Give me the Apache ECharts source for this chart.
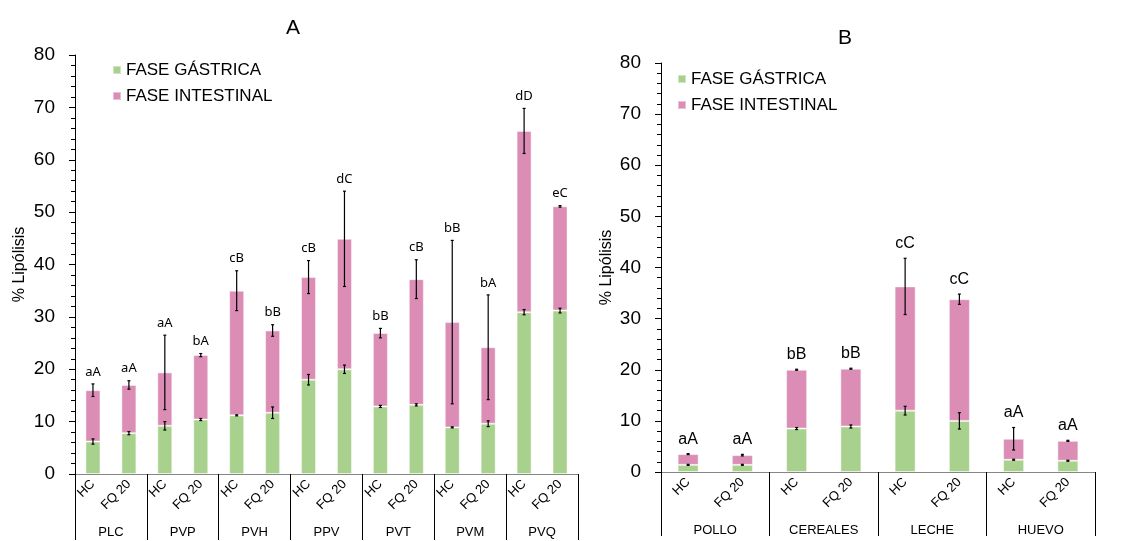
<!DOCTYPE html>
<html>
<head>
<meta charset="utf-8">
<script src="https://cdn.jsdelivr.net/npm/echarts@6/dist/echarts.min.js"></script>
<style>
  html, body { margin: 0; padding: 0; background: #fff; }
  #chart { width: 1138px; height: 541px; }
</style>
</head>
<body>
<div id="chart"></div>
<script>
// Treatments inside each group
const treatments = ['HC', 'FQ 20'];

// Panel A: lipolysis per product
const groupsA = ['PLC', 'PVP', 'PVH', 'PPV', 'PVT', 'PVM', 'PVQ'];
const gastricA    = [6.2, 7.8, 9.2, 10.4, 11.2, 11.7, 18.0, 20.0, 12.9, 13.2, 8.9, 9.6, 30.9, 31.2];
const intestinalA = [9.8, 9.2, 10.2, 12.3, 23.8, 15.7, 19.6, 24.9, 14.0, 24.0, 20.1, 14.6, 34.6, 19.9];
const gastricErrA = [0.5, 0.3, 0.8, 0.2, 0.1, 1.1, 1.0, 0.8, 0.2, 0.2, 0.1, 0.55, 0.5, 0.45];
const totalErrA   = [1.2, 0.8, 7.1, 0.3, 3.8, 1.1, 3.15, 9.1, 0.9, 3.7, 15.6, 10.0, 4.3, 0.15];
const lettersA    = ['aA', 'aA', 'aA', 'bA', 'cB', 'bB', 'cB', 'dC', 'bB', 'cB', 'bB', 'bA', 'dD', 'eC'];

// Panel B: lipolysis per food matrix
const groupsB = ['POLLO', 'CEREALES', 'LECHE', 'HUEVO'];
const gastricB    = [1.4, 1.4, 8.5, 8.9, 12.0, 10.0, 2.4, 2.2];
const intestinalB = [2.1, 1.9, 11.5, 11.3, 24.3, 23.8, 4.1, 3.9];
const gastricErrB = [0.1, 0.1, 0.2, 0.3, 0.85, 1.6, 0.1, 0.1];
const totalErrB   = [0.1, 0.15, 0.1, 0.1, 5.5, 1.0, 2.2, 0.1];
const lettersB    = ['aA', 'aA', 'bB', 'bB', 'cC', 'cC', 'aA', 'aA'];

// Y axis ticks
const yMin = 0, yMax = 80, yStep = 10;

const GREEN = '#A9D18E';
const PINK = '#DB8DB5';
const NAME_G = 'FASE GÁSTRICA';
const NAME_I = 'FASE INTESTINAL';

const catsA = groupsA.flatMap(() => treatments);
const catsB = groupsB.flatMap(() => treatments);
const totals = (g, i) => g.map((v, k) => v + i[k]);

function errorRender(params, api) {
  const x = api.value(0), v = api.value(1), e = api.value(2);
  const top = api.coord([x, v + e]);
  const bot = api.coord([x, v - e]);
  const cap = 1.5;
  const style = { stroke: '#000', lineWidth: 1.2 };
  return {
    type: 'group',
    children: [
      { type: 'line', shape: { x1: top[0], y1: top[1], x2: bot[0], y2: bot[1] }, style },
      { type: 'line', shape: { x1: top[0] - cap, y1: top[1], x2: top[0] + cap, y2: top[1] }, style },
      { type: 'line', shape: { x1: bot[0] - cap, y1: bot[1], x2: bot[0] + cap, y2: bot[1] }, style }
    ]
  };
}

function letterRender(letters, gap, font) {
  return function (params, api) {
    const p = api.coord([api.value(0), api.value(1)]);
    return {
      type: 'text',
      style: {
        x: p[0], y: p[1] - gap,
        text: letters[params.dataIndex],
        font: font,
        fill: '#000',
        align: 'center',
        verticalAlign: 'middle'
      }
    };
  };
}

function errSeries(name, xi, yi, vals, errs) {
  return {
    name, type: 'custom', xAxisIndex: xi, yAxisIndex: yi, z: 5, clip: false,
    renderItem: errorRender,
    data: vals.map((v, k) => [k, v, errs[k]])
  };
}

function letterSeries(name, xi, yi, tot, errs, letters, gap, font) {
  return {
    name, type: 'custom', xAxisIndex: xi, yAxisIndex: yi, z: 6, clip: false,
    renderItem: letterRender(letters, gap, font),
    data: tot.map((v, k) => [k, v + errs[k]])
  };
}

function catAxis(gridIndex, data) {
  return {
    type: 'category', gridIndex, data, position: 'bottom',
    axisLine: { show: true, lineStyle: { color: '#868686', width: 1 } },
    axisTick: { show: false },
    axisLabel: { interval: 0, rotate: 45, margin: 8, fontSize: 13, color: '#000', fontFamily: 'Liberation Sans' },
    splitLine: { show: false }
  };
}

function groupAxis(gridIndex, data, tickLen) {
  return {
    type: 'category', gridIndex, data, position: 'bottom',
    axisLine: { show: false },
    axisTick: { show: true, interval: 0, length: tickLen, lineStyle: { color: '#000', width: 1 } },
    axisLabel: { interval: 0, margin: 52, fontSize: 13, color: '#000', fontFamily: 'Liberation Sans' },
    splitLine: { show: false }
  };
}

function valAxis(gridIndex, nameGap) {
  return {
    type: 'value', gridIndex, min: yMin, max: yMax, interval: yStep,
    name: '% Lipólisis', nameLocation: 'middle', nameRotate: 90, nameGap,
    nameTextStyle: { fontSize: 16, color: '#000', fontFamily: 'Liberation Sans' },
    axisLine: { show: true, lineStyle: { color: '#000', width: 1 } },
    axisTick: { show: true, length: 6, lineStyle: { color: '#000' } },
    minorTick: { show: true, splitNumber: 5, length: 4, lineStyle: { color: '#000' } },
    splitLine: { show: false },
    axisLabel: { fontSize: 19, margin: 20, color: '#000', fontFamily: 'Liberation Sans' }
  };
}

function barSeries(name, xi, yi, stack, data, color, width) {
  return {
    name, type: 'bar', stack, xAxisIndex: xi, yAxisIndex: yi, barWidth: width,
    itemStyle: { color, borderColor: 'rgba(255,255,255,0.45)', borderWidth: 1 },
    data
  };
}

const totalA = totals(gastricA, intestinalA);
const totalB = totals(gastricB, intestinalB);

const legendBase = {
  orient: 'vertical', icon: 'rect', itemWidth: 8, itemHeight: 8, itemGap: 8, itemTextGap: 6,
  padding: 0,
  textStyle: { fontSize: 17, lineHeight: 18, color: '#000', fontFamily: 'Liberation Sans' },
  data: [NAME_G, NAME_I], selectedMode: false
};

const titleStyle = { fontSize: 21, fontWeight: 'normal', color: '#000', fontFamily: 'Liberation Sans' };

const chart = echarts.init(document.getElementById('chart'), null, { renderer: 'canvas' });
chart.setOption({
  animation: false,
  backgroundColor: '#fff',
  title: [
    { text: 'A', left: 286, top: 18, padding: 0, textStyle: titleStyle },
    { text: 'B', left: 838, top: 28, padding: 0, textStyle: titleStyle }
  ],
  legend: [
    Object.assign({}, legendBase, { left: 112, top: 61 }),
    Object.assign({}, legendBase, { left: 677, top: 70 })
  ],
  grid: [
    { left: 75, top: 55, width: 503, height: 419 },
    { left: 661, top: 63, width: 434, height: 409 }
  ],
  xAxis: [
    catAxis(0, catsA),
    groupAxis(0, groupsA, 66),
    catAxis(1, catsB),
    groupAxis(1, groupsB, 64)
  ],
  yAxis: [valAxis(0, 47), valAxis(1, 46)],
  series: [
    barSeries(NAME_G, 0, 0, 'A', gastricA, GREEN, 15),
    barSeries(NAME_I, 0, 0, 'A', intestinalA, PINK, 15),
    errSeries('errGA', 0, 0, gastricA, gastricErrA),
    errSeries('errTA', 0, 0, totalA, totalErrA),
    letterSeries('letA', 0, 0, totalA, totalErrA, lettersA, 12, '13px "Noto Sans"'),
    barSeries(NAME_G, 2, 1, 'B', gastricB, GREEN, 21),
    barSeries(NAME_I, 2, 1, 'B', intestinalB, PINK, 21),
    errSeries('errGB', 2, 1, gastricB, gastricErrB),
    errSeries('errTB', 2, 1, totalB, totalErrB),
    letterSeries('letB', 2, 1, totalB, totalErrB, lettersB, 14.5, '16px "Liberation Sans"')
  ]
});
</script>
</body>
</html>
